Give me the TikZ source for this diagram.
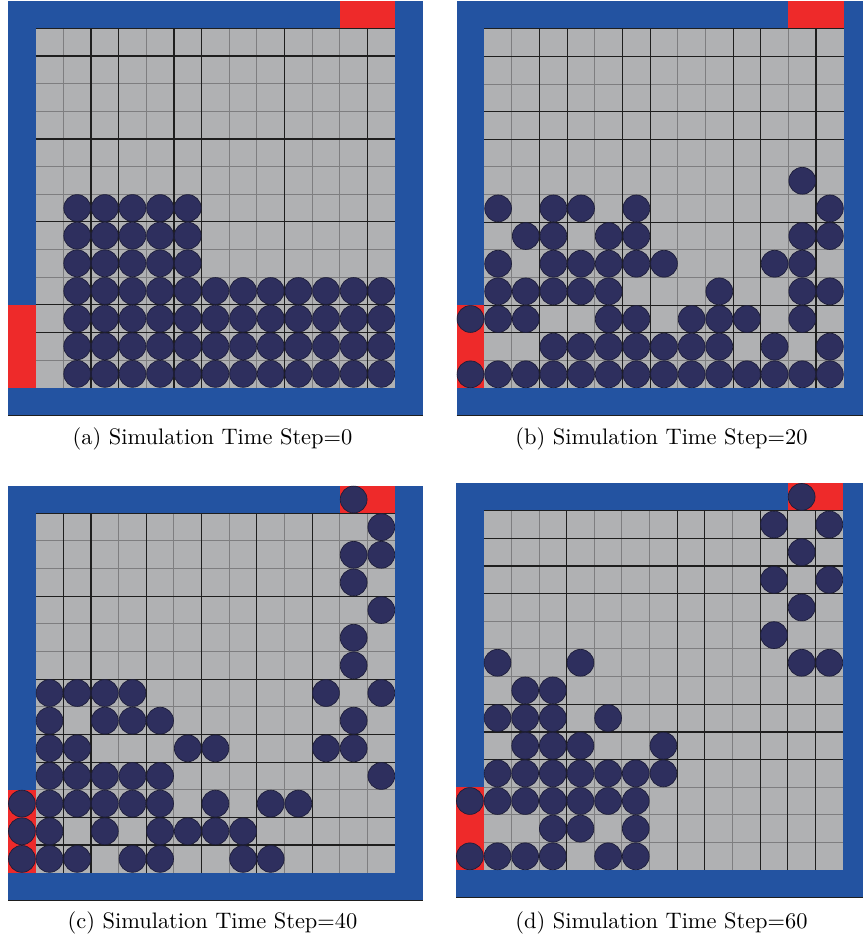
\documentclass[tikz,border=0pt]{standalone}
\definecolor{wallblue}{HTML}{2353A1}
\definecolor{portred}{HTML}{EE2A2A}
\definecolor{cellgray}{HTML}{B0B1B3}
\definecolor{dotnavy}{HTML}{2E2F5E}
\definecolor{dotedge}{HTML}{1C1C38}
\definecolor{lightline}{HTML}{7E7E80}
\definecolor{darkline}{HTML}{1E1E1E}
\tikzset{
  minorline/.style={draw=lightline, line width=0.45pt},
  majorline/.style={draw=darkline, line width=0.55pt},
  framefoot/.style={draw=darkline, line width=0.6pt},
  particle/.style={fill=dotnavy, draw=dotedge, line width=0.3pt},
  captext/.style={anchor=base, inner sep=0pt, font=\fontsize{10.2pt}{12pt}\selectfont},
  cellscope/.style={x=12.58pt, y=-12.58pt}
}
\newcommand\simgrid[2]{%
  \fill[wallblue] (-1,-1) rectangle (14,14);
  \fill[cellgray] (0,0) rectangle (13,13);
  \fill[portred] (11,-1) rectangle (13,0);
  \fill[portred] (-1,10) rectangle (0,13);
  \foreach \i in {1,...,12} {\draw[minorline] (\i,0) -- (\i,13); \draw[minorline] (0,\i) -- (13,\i);}
  \foreach \i in {#1} {\draw[majorline] (\i,0) -- (\i,13);}
  \foreach \i in {#2} {\draw[majorline] (0,\i) -- (13,\i);}
  \draw[framefoot] (-1,14) -- (14,14);
}
\newcommand\dotrow[2]{\foreach \cc in {#2} {\filldraw[particle] (\cc+0.5,#1+0.5) circle[radius=6.1pt];}}
\begin{document}
\begin{tikzpicture}[x=0.455pt, y=-0.455pt]
\useasboundingbox (0,0) rectangle (863,935);
\clip (0,0) rectangle (863,935);
% (a)
\begin{scope}[shift={(35.7,28.3)}, cellscope]
  \simgrid{2,3,5,6,9,12}{0,1,4,7,10,11}
  \foreach \r in {6,7,8} {\dotrow{\r}{1,...,5}}
  \foreach \r in {9,...,12} {\dotrow{\r}{1,...,12}}
\end{scope}
% (b)
\begin{scope}[shift={(484.3,28.7)}, cellscope]
  \simgrid{2,3,5,6,9,10,12}{0,1,3,4,7,10,11}
  \dotrow{5}{11}
  \dotrow{6}{0,2,3,5,12}
  \dotrow{7}{1,2,4,5,11,12}
  \dotrow{8}{0,2,3,4,5,6,10,11}
  \dotrow{9}{0,1,2,3,4,8,11,12}
  \dotrow{10}{-1,0,1,4,5,7,8,9,11}
  \dotrow{11}{2,3,4,5,6,7,8,10,12}
  \dotrow{12}{-1,0,1,2,3,4,5,6,7,8,9,10,11,12}
\end{scope}
% (c)
\begin{scope}[shift={(35.7,513.3)}, cellscope]
  \simgrid{1,2,4,6,8,10}{0,3,6,8,9,11,12}
  \dotrow{-1}{11}
  \dotrow{0}{12}
  \dotrow{1}{11,12}
  \dotrow{2}{11}
  \dotrow{3}{12}
  \dotrow{4}{11}
  \dotrow{5}{11}
  \dotrow{6}{0,1,2,3,10,12}
  \dotrow{7}{0,2,3,4,11}
  \dotrow{8}{0,1,5,6,10,11}
  \dotrow{9}{0,1,2,3,4,12}
  \dotrow{10}{-1,0,1,2,3,4,6,8,9}
  \dotrow{11}{-1,0,2,4,5,6,7}
  \dotrow{12}{-1,0,1,3,4,7,8}
\end{scope}
% (d)
\begin{scope}[shift={(483.7,510.7)}, cellscope]
  \simgrid{3,7,8,10,11,12}{0,1,2,3,7,8,9}
  \dotrow{-1}{11}
  \dotrow{0}{10,12}
  \dotrow{1}{11}
  \dotrow{2}{10,12}
  \dotrow{3}{11}
  \dotrow{4}{10}
  \dotrow{5}{0,3,11,12}
  \dotrow{6}{1,2}
  \dotrow{7}{0,1,2,4}
  \dotrow{8}{1,2,3,6}
  \dotrow{9}{0,1,2,3,4,5,6}
  \dotrow{10}{-1,0,1,2,3,4,5}
  \dotrow{11}{2,3,5}
  \dotrow{12}{-1,0,1,2,4,5}
\end{scope}
\node[captext] (capa) at (212.5,444.5) {(a) Simulation Time Step=0};
\node[captext] (capb) at (661.5,444.5) {(b) Simulation Time Step=20};
\node[captext] (capc) at (212.5,928.5) {(c) Simulation Time Step=40};
\node[captext] (capd) at (661.5,928.5) {(d) Simulation Time Step=60};
\end{tikzpicture}
\end{document}
